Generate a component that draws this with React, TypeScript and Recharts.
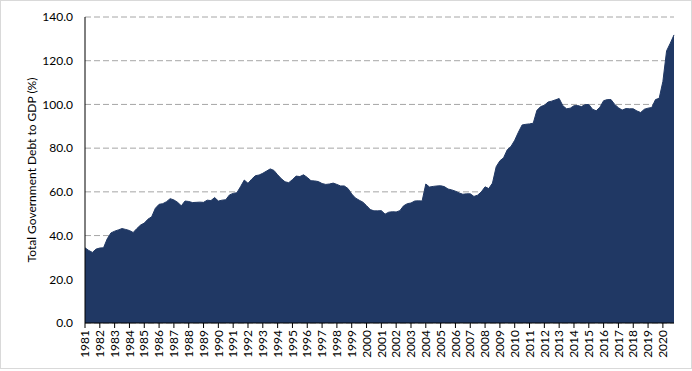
import { AreaChart, Area, XAxis, YAxis, CartesianGrid } from 'recharts';

// Quarterly total government debt to GDP (%), 1981Q1 .. 2020Q4.
const START_YEAR = 1981;
const DEBT_1980S = [
  34.4, 33.2, 32.3, 33.8, // 1981
  34.3, 34.4, 38.5, 41.2, // 1982
  42.0, 42.6, 43.2, 42.8, // 1983
  42.3, 41.4, 43.2, 44.8, // 1984
  45.7, 47.5, 48.6, 52.5, // 1985
  54.3, 54.6, 55.5, 56.9, // 1986
  56.3, 55.2, 53.6, 55.8, // 1987
  55.6, 55.1, 55.2, 55.3, // 1988
  55.2, 56.2, 56.0, 57.4, // 1989
];
const DEBT_1990S = [
  55.8, 56.2, 56.4, 58.6, // 1990
  59.3, 59.6, 62.4, 65.4, // 1991
  63.9, 65.8, 67.4, 67.7, // 1992
  68.5, 69.5, 70.5, 69.8, // 1993
  67.8, 66.0, 64.6, 64.2, // 1994
  65.6, 67.2, 67.0, 67.8, // 1995
  66.6, 65.1, 65.0, 64.7, // 1996
  63.8, 63.4, 63.6, 64.0, // 1997
  63.4, 62.7, 62.7, 61.5, // 1998
  59.0, 57.2, 56.2, 55.3, // 1999
];
const DEBT_2000S = [
  53.7, 51.9, 51.3, 51.3, // 2000
  51.4, 49.8, 50.7, 50.9, // 2001
  50.8, 51.4, 53.6, 54.6, // 2002
  54.9, 55.8, 55.9, 55.8, // 2003
  63.6, 62.2, 62.5, 62.7, // 2004
  62.8, 62.4, 61.3, 60.9, // 2005
  60.3, 59.5, 58.9, 59.1, // 2006
  59.1, 57.9, 58.5, 60.0, // 2007
  62.3, 61.5, 64.0, 71.5, // 2008
  74.2, 75.6, 79.3, 80.8, // 2009
];
const DEBT_2010S = [
  83.6, 87.3, 90.6, 90.9, // 2010
  91.1, 91.4, 97.3, 99.0, // 2011
  99.6, 101.1, 101.5, 102.1, // 2012
  102.7, 99.4, 98.0, 98.3, // 2013
  99.4, 99.5, 99.0, 99.9, // 2014
  100.0, 97.8, 97.1, 98.7, // 2015
  101.7, 102.2, 102.2, 100.0, // 2016
  98.5, 97.4, 98.1, 98.0, // 2017
  98.0, 97.0, 96.3, 97.8, // 2018
  98.3, 98.6, 102.2, 102.8, // 2019
  110.5, 124.5, 128.0, 131.8, // 2020
];

const YEAR_TICKS = Array.from({ length: 40 }, (_, i) => START_YEAR + i);
const Y_TICKS = [0, 20, 40, 60, 80, 100, 120, 140];

const FILL = '#203864';
const GRID = '#a6a6a6';
const FONT = 'Lato, "Open Sans", sans-serif';

const rows = [...DEBT_1980S, ...DEBT_1990S, ...DEBT_2000S, ...DEBT_2010S].map((v, i) => ({
  t: START_YEAR + i / 4,
  debt: v,
}));

function YearTick({ x, y, payload }: any) {
  return (
    <text
      x={x}
      y={y}
      transform={`rotate(-90, ${x}, ${y})`}
      textAnchor="end"
      dy="0.35em"
      fontSize={12}
      fontFamily={FONT}
      fill="#000"
    >
      {payload.value}
    </text>
  );
}

export default function App() {
  return (
    <div
      style={{
        position: 'absolute',
        left: 0,
        top: 0,
        width: 692,
        height: 369,
        boxSizing: 'border-box',
        border: '1px solid #d9d9d9',
        background: '#fff',
      }}
    >
      <div style={{ position: 'absolute', left: -1, top: -1 }}>
        <AreaChart width={692} height={371} data={rows} margin={{ top: 17, right: 18, bottom: 0, left: 0 }}>
          <CartesianGrid vertical={false} stroke={GRID} strokeDasharray="6 3" />
          <XAxis
            type="number"
            dataKey="t"
            domain={[START_YEAR, 2020.75]}
            ticks={YEAR_TICKS}
            interval={0}
            height={48}
            tickSize={5}
            tickMargin={2}
            stroke="#000"
            tick={<YearTick />}
          />
          <YAxis
            domain={[0, 140]}
            ticks={Y_TICKS}
            width={85}
            tickLine={false}
            tickMargin={6}
            stroke="#000"
            tick={{ fontSize: 12, fontFamily: FONT, fill: '#000' }}
            tickFormatter={(v: number) => v.toFixed(1)}
            label={{
              value: 'Total Government Debt to GDP (%)',
              angle: -90,
              position: 'insideLeft',
              offset: 32,
              style: { fontSize: 12, fontFamily: FONT, fill: '#000', textAnchor: 'middle' },
            }}
          />
          <Area
            type="linear"
            dataKey="debt"
            stroke={FILL}
            strokeWidth={1}
            fill={FILL}
            fillOpacity={1}
            isAnimationActive={false}
            dot={false}
            activeDot={false}
          />
        </AreaChart>
      </div>
    </div>
  );
}
